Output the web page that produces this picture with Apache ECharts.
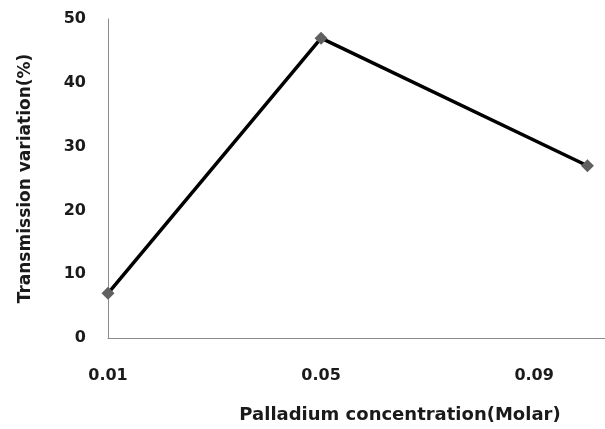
<!DOCTYPE html>
<html>
<head>
<meta charset="utf-8">
<script src="https://cdn.jsdelivr.net/npm/echarts@6/dist/echarts.min.js"></script>
<style>html,body{margin:0;padding:0;background:#fff;}#c{width:605px;height:429px;}</style>
</head>
<body>
<div id="c"></div>
<script>
const concentrations = [0.01, 0.05, 0.10];
const transmission = [7, 47, 27];
const xTicks = [0.01, 0.05, 0.09];
const yTicks = [0, 10, 20, 30, 40, 50];

const chart = echarts.init(document.getElementById('c'), null, {renderer: 'canvas'});
const font = '"DejaVu Sans", Verdana, sans-serif';
chart.setOption({
  animation: false,
  backgroundColor: '#ffffff',
  grid: {left: 108, right: 0, top: 19, bottom: 90, containLabel: false},
  xAxis: {
    type: 'value',
    min: 0.01, max: 0.1033, interval: 0.04,
    axisLine: {show: true, lineStyle: {color: '#8c8c8c', width: 1}},
    axisTick: {show: false},
    splitLine: {show: false},
    axisLabel: {
      margin: 30, color: '#1a1a1a', fontFamily: font, fontWeight: 'bold', fontSize: 16,
      showMaxLabel: false,
      formatter: function (v) {
        const m = xTicks.find(t => Math.abs(t - v) < 1e-6);
        return m === undefined ? '' : m.toFixed(2);
      }
    },
    name: 'Palladium concentration(Molar)',
    nameLocation: 'middle', nameGap: 68,
    nameTextStyle: {color: '#1a1a1a', fontFamily: font, fontWeight: 'bold', fontSize: 18, padding: [0, 0, 0, 87]}
  },
  yAxis: {
    type: 'value',
    min: yTicks[0], max: yTicks[yTicks.length - 1], interval: 10,
    axisLine: {show: true, lineStyle: {color: '#8c8c8c', width: 1}},
    axisTick: {show: false},
    splitLine: {show: false},
    axisLabel: {margin: 22, color: '#1a1a1a', fontFamily: font, fontWeight: 'bold', fontSize: 16},
    name: 'Transmission variation(%)',
    nameLocation: 'middle', nameGap: 74, nameRotate: 90,
    nameTextStyle: {color: '#1a1a1a', fontFamily: font, fontWeight: 'bold', fontSize: 17}
  },
  series: [{
    type: 'line',
    data: concentrations.map((x, i) => [x, transmission[i]]),
    symbol: 'diamond', symbolSize: 13,
    lineStyle: {color: '#000000', width: 3.5},
    itemStyle: {color: '#606060'},
    z: 3
  }]
});
</script>
</body>
</html>
